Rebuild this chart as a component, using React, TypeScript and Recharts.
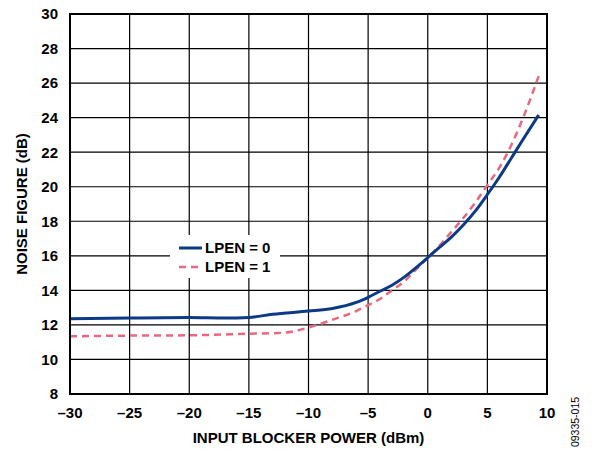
import {
  LineChart,
  Line,
  XAxis,
  YAxis,
  CartesianGrid,
  ReferenceArea,
  Label,
} from "recharts";

const xTicks = [-30, -25, -20, -15, -10, -5, 0, 5, 10];
const yTicks = [8, 10, 12, 14, 16, 18, 20, 22, 24, 26, 28, 30];

const lpen0Power = [-30, -25, -20, -17, -15, -13, -10, -8, -6, -5, -4, -3, -2, -1, 0, 1, 2, 3, 4, 5, 6, 7, 8, 9.3];
const lpen0Nf = [12.35, 12.4, 12.43, 12.4, 12.43, 12.62, 12.8, 12.95, 13.3, 13.6, 13.95, 14.3, 14.75, 15.3, 15.9, 16.5, 17.1, 17.8, 18.6, 19.55, 20.55, 21.65, 22.75, 24.15];

const lpen1Power = [-30, -25, -20, -15, -12, -10, -8, -6, -5, -4, -3, -2, -1, 0, 1, 2, 3, 4, 5, 6, 7, 8, 9.3];
const lpen1Nf = [11.34, 11.38, 11.4, 11.49, 11.55, 11.85, 12.3, 12.8, 13.15, 13.5, 14.0, 14.5, 15.2, 15.9, 16.6, 17.4, 18.2, 19.1, 20.1, 21.1, 22.4, 24.0, 26.4];

const lpen0 = lpen0Power.map((p, i) => ({ power: p, nf: lpen0Nf[i] }));
const lpen1 = lpen1Power.map((p, i) => ({ power: p, nf: lpen1Nf[i] }));

const FONT = "Arial, 'Liberation Sans', sans-serif";
const BLUE = "#0c3b86";
const PINK = "#e9687f";
const FS = 15;

const fmt = (v: number) => (v < 0 ? "\u2013" + Math.abs(v) : String(v));

function LegendBox() {
  return (
    <div
      style={{
        position: "absolute",
        left: 170,
        top: 235,
        width: 110,
        boxSizing: "border-box",
        background: "#fff",
        padding: "3px 0 2px 9px",
        fontFamily: FONT,
        fontWeight: "bold",
        fontSize: FS,
        color: "#000",
        lineHeight: "19px",
      }}
    >
      <div style={{ display: "flex", alignItems: "center" }}>
        <svg width={26} height={10} style={{ flexShrink: 0 }}>
          <line x1={0} y1={5} x2={23} y2={5} stroke={BLUE} strokeWidth={3} />
        </svg>
        LPEN = 0
      </div>
      <div style={{ display: "flex", alignItems: "center" }}>
        <svg width={26} height={10} style={{ flexShrink: 0 }}>
          <line x1={0} y1={5} x2={23} y2={5} stroke={PINK} strokeWidth={2.5} strokeDasharray="7 5" />
        </svg>
        LPEN = 1
      </div>
    </div>
  );
}

export default function App() {
  return (
    <div style={{ position: "fixed", left: 0, top: 0, width: 601, height: 463, background: "#fff" }}>
      <LineChart
        width={601}
        height={463}
        margin={{ top: 14, right: 54, bottom: 0, left: 0 }}
        style={{ fontFamily: FONT }}
      >
        <CartesianGrid stroke="#000" strokeWidth={1.2} horizontalValues={yTicks} verticalValues={xTicks} />
        <XAxis
          dataKey="power"
          type="number"
          domain={[-30, 10]}
          ticks={xTicks}
          tickFormatter={fmt}
          allowDuplicatedCategory={false}
          height={69}
          tickLine={false}
          tickSize={0}
          tickMargin={13}
          axisLine={{ stroke: "#000", strokeWidth: 2 }}
          tick={{ fill: "#000", fontSize: FS, fontWeight: "bold" }}
        >
          <Label
            value="INPUT BLOCKER POWER (dBm)"
            position="insideBottom"
            offset={20}
            style={{ fill: "#000", fontSize: FS, fontWeight: "bold" }}
          />
        </XAxis>
        <YAxis
          type="number"
          domain={[8, 30]}
          ticks={yTicks}
          width={70}
          tickLine={false}
          tickSize={0}
          tickMargin={12}
          axisLine={{ stroke: "#000", strokeWidth: 2 }}
          tick={{ fill: "#000", fontSize: FS, fontWeight: "bold" }}
        >
          <Label
            value="NOISE FIGURE (dB)"
            angle={-90}
            position="insideLeft"
            offset={22}
            style={{ fill: "#000", fontSize: FS, fontWeight: "bold", textAnchor: "middle" }}
          />
        </YAxis>
        <ReferenceArea x1={-30} x2={10} y1={8} y2={30} fill="none" stroke="#000" strokeWidth={2} />
        <Line
          data={lpen1}
          dataKey="nf"
          type="monotone"
          stroke={PINK}
          strokeWidth={2.5}
          strokeDasharray="7 5"
          dot={false}
          isAnimationActive={false}
        />
        <Line
          data={lpen0}
          dataKey="nf"
          type="monotone"
          stroke={BLUE}
          strokeWidth={3}
          dot={false}
          isAnimationActive={false}
        />
      </LineChart>
      <LegendBox />
      <div
        style={{
          position: "absolute",
          left: 575,
          top: 422,
          transform: "translate(-50%, -50%) rotate(-90deg)",
          fontFamily: FONT,
          fontSize: 10.5,
          color: "#000",
          whiteSpace: "nowrap",
        }}
      >
        09335-015
      </div>
    </div>
  );
}
